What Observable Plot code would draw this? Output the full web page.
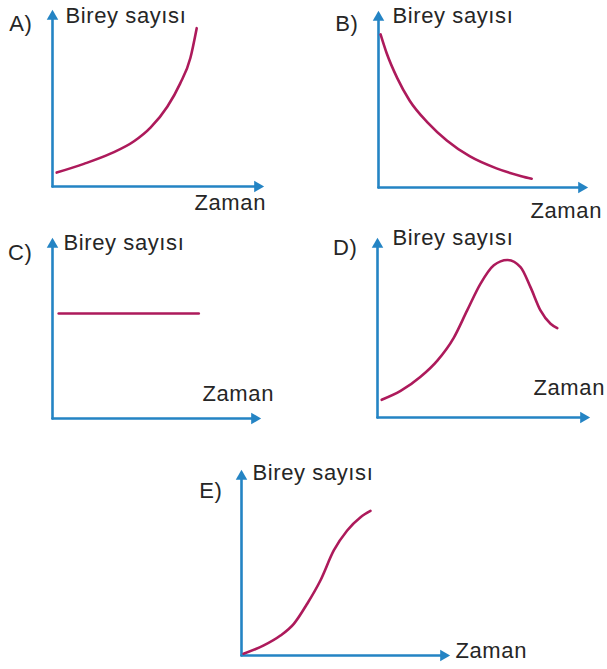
<!DOCTYPE html>
<html><head><meta charset="utf-8">
<script src="https://cdn.jsdelivr.net/npm/d3@7"></script>
<script src="https://cdn.jsdelivr.net/npm/@observablehq/plot@0.6"></script>
<style>
html,body{margin:0;padding:0;background:#fff;}
#chart{position:relative;width:607px;height:669px;overflow:hidden;background:#fff;}
#chart svg{position:absolute;overflow:visible;background:transparent;}
</style></head><body><div id="chart"></div>
<script>
// ---- data (time and population in 0-100 units of each axis) ----
const panelLetters = ["A)", "B)", "C)", "D)", "E)"];
const yAxisLabel = "Birey sayısı";
const xAxisLabel = "Zaman";

const aTime  = [2, 15, 28, 39, 47, 55, 61, 66, 69];
const aCount = [8, 13, 19, 26, 34, 46, 59, 74, 91];

const bTime  = [1, 4, 9, 15, 24, 33, 44, 57, 69, 74];
const bCount = [88, 77, 63, 50, 37, 27, 18, 11, 6.5, 5];

const cTime  = [3, 71];
const cCount = [59, 59];

const dTime  = [2, 11, 20.5, 28.4, 36.3, 42.7, 49, 55.4, 61.8, 68.1, 72.9, 77.6, 82.4, 85.6];
const dCount = [10, 15, 23, 32, 45, 60.5, 75.5, 86, 89, 85, 73.5, 60.5, 53, 50.5];

const eTime  = [1, 10.8, 18.9, 25.4, 31.9, 38.3, 44.8, 51.3, 57.8, 62.6];
const eCount = [1, 5.5, 10.9, 17.3, 28.3, 41, 57.4, 68.3, 75.6, 79];

const series = [[aTime, aCount], [bTime, bCount], [cTime, cCount], [dTime, dCount], [eTime, eCount]];

// ---- layout (pixel boxes and label offsets) ----
const layout = [
  {left: 0,   top: 0,   w: 300, h: 220, m: [12, 39, 34, 52], letter: [-20, 11], ylab: [13, 3],  xlab: [142, 16]},
  {left: 310, top: 0,   w: 297, h: 225, m: [13, 22, 38, 68], letter: [-20, 10], ylab: [14, 2],  xlab: [152, 23]},
  {left: 0,   top: 225, w: 300, h: 210, m: [15, 42, 17, 52], letter: [-20, 12], ylab: [11, 2],  xlab: [150, -25]},
  {left: 310, top: 225, w: 297, h: 210, m: [15, 20, 18, 67], letter: [-20, 7],  ylab: [15, -3], xlab: [156, -30]},
  {left: 160, top: 445, w: 400, h: 224, m: [27, 113, 14, 81], letter: [-19, 18], ylab: [11, 0],  xlab: [214, -5]}
];

const axisColor = "#2484c4";
const curveColor = "#ad1a5b";
const textColor = "#262626";
const font = "Liberation Sans, Arial, sans-serif";
const fs = 22;

const chart = document.getElementById("chart");
layout.forEach((L, i) => {
  const [tArr, nArr] = series[i];
  const pts = tArr.map((t, k) => ({t, n: nArr[k]}));
  const svg = Plot.plot({
    width: L.w, height: L.h,
    marginTop: L.m[0], marginRight: L.m[1], marginBottom: L.m[2], marginLeft: L.m[3],
    x: {domain: [0, 100], axis: null},
    y: {domain: [0, 100], axis: null},
    style: {fontFamily: font, letterSpacing: "0.6px", background: "transparent", overflow: "visible"},
    marks: [
      Plot.line([{t: 0, n: 0}, {t: 97, n: 0}], {x: "t", y: "n", stroke: axisColor, strokeWidth: 2.6}),
      Plot.line([{t: 0, n: 0}, {t: 0, n: 97}], {x: "t", y: "n", stroke: axisColor, strokeWidth: 2.6}),
      Plot.dot([{t: 100, n: 0}], {x: "t", y: "n", symbol: "triangle2", r: 5.5, rotate: 90, dx: -4, fill: axisColor, stroke: null}),
      Plot.dot([{t: 0, n: 100}], {x: "t", y: "n", symbol: "triangle2", r: 5.5, rotate: 0, dy: 4, fill: axisColor, stroke: null}),
      Plot.line(pts, {x: "t", y: "n", stroke: curveColor, strokeWidth: 2.6, curve: "monotone-x"}),
      Plot.text([panelLetters[i]], {frameAnchor: "top-left", dx: L.letter[0], dy: L.letter[1], textAnchor: "end", lineAnchor: "middle", fontSize: fs, fill: textColor}),
      Plot.text([yAxisLabel], {frameAnchor: "top-left", dx: L.ylab[0], dy: L.ylab[1], textAnchor: "start", lineAnchor: "middle", fontSize: fs, fill: textColor}),
      Plot.text([xAxisLabel], {frameAnchor: "bottom-left", dx: L.xlab[0], dy: L.xlab[1], textAnchor: "start", lineAnchor: "middle", fontSize: fs, fill: textColor})
    ]
  });
  svg.style.left = L.left + "px";
  svg.style.top = L.top + "px";
  chart.appendChild(svg);
});
</script></body></html>
